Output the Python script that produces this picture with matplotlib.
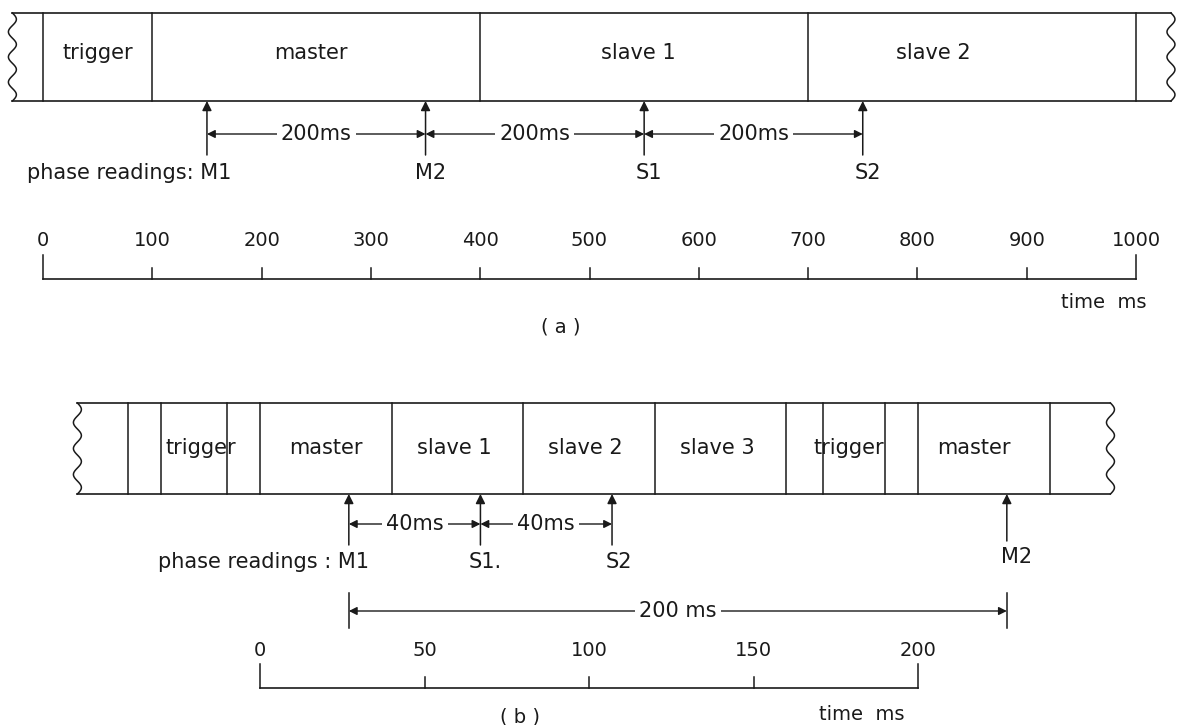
import numpy as np
import matplotlib.pyplot as plt

# --- (a) one full 1000 ms cycle ---
a_edges = [0, 100, 400, 700, 1000]
a_names = ['trigger', 'master', 'slave 1', 'slave 2']
a_name_pos = [50, 245, 545, 815]
a_reads = [150, 350, 550, 750]
a_read_names = ['M1', 'M2', 'S1', 'S2']
a_gap_text = ['200ms', '200ms', '200ms']
a_ticks = [0, 100, 200, 300, 400, 500, 600, 700, 800, 900, 1000]

# --- (b) faster 200 ms cycle ---
b_edges = [-40, -30, -10, 0, 40, 80, 120, 160, 171, 190, 200, 240]
b_names = ['trigger', 'master', 'slave 1', 'slave 2', 'slave 3', 'trigger', 'master']
b_name_pos = [-18, 20, 59, 99, 139, 179, 217]
b_reads = [27, 67, 107, 227]
b_read_names = ['M1', 'S1.', 'S2', 'M2']
b_gap_text = ['40ms', '40ms']
b_ticks = [0, 50, 100, 150, 200]

W, H = 1179, 725
col = '#1a1a1a'
fs = 15     # labels
fs_t = 14   # tick numbers
fig = plt.figure(figsize=(W / 100, H / 100), dpi=100)

def make_ax(x0, k):
    # x in ms, y in pixels from the top
    ax = fig.add_axes([0, 0, 1, 1])
    ax.set_xlim(-x0 / k, (W - x0) / k)
    ax.set_ylim(H, 0)
    ax.axis('off')
    ax.patch.set_alpha(0)
    return ax

def wavy(ax, x, top, bot, k):
    y = np.linspace(top, bot, 80)
    ax.plot(x + 4 / k * np.sin((y - top) / (bot - top) * 2 * np.pi * 3.5), y, color=col, lw=1.1)

def strip(ax, k, edges, left, right, top, bot, names, name_pos, name_y):
    ax.plot([left, right], [top, top], color=col, lw=1.2)
    ax.plot([left, right], [bot, bot], color=col, lw=1.2)
    for e in edges:
        ax.plot([e, e], [top, bot], color=col, lw=1.1)
    wavy(ax, left, top, bot, k)
    wavy(ax, right, top, bot, k)
    for n, p in zip(names, name_pos):
        ax.text(p, name_y, n, ha='center', va='center', fontsize=fs, color=col)

def up_arrow(ax, x, y0, y1):
    ax.annotate('', xy=(x, y1), xytext=(x, y0),
                arrowprops=dict(arrowstyle='-|>', color=col, lw=1.1,
                                mutation_scale=14, shrinkA=0, shrinkB=0))

def dim(ax, x0, x1, y, txt):
    ax.annotate('', xy=(x0, y), xytext=(x1, y),
                arrowprops=dict(arrowstyle='<|-|>', color=col, lw=1.0,
                                mutation_scale=12, shrinkA=0, shrinkB=0))
    ax.text((x0 + x1) / 2, y, txt, ha='center', va='center', fontsize=fs, color=col,
            bbox=dict(facecolor='white', edgecolor='none', pad=3))

def scale(ax, ticks, y, tall, short, lab_y):
    ax.plot([ticks[0], ticks[-1]], [y, y], color=col, lw=1.2)
    for i, t in enumerate(ticks):
        h = tall if i in (0, len(ticks) - 1) else short
        ax.plot([t, t], [y - h, y], color=col, lw=1.1)
        ax.text(t, lab_y, str(t), ha='center', va='center', fontsize=fs_t, color=col)

# panel (a)
ka = 1.093
ax_a = make_ax(43, ka)
strip(ax_a, ka, a_edges, -28, 1032, 13, 101, a_names, a_name_pos, 53)
for r in a_reads:
    up_arrow(ax_a, r, 155, 101)
for i in range(len(a_reads) - 1):
    dim(ax_a, a_reads[i], a_reads[i + 1], 134, a_gap_text[i])
ax_a.text(a_reads[0] + 22, 173, 'phase readings: ' + a_read_names[0], ha='right', va='center',
          fontsize=fs, color=col)
for r, n in zip(a_reads[1:], a_read_names[1:]):
    ax_a.text(r + 5 / ka, 173, n, ha='center', va='center', fontsize=fs, color=col)
scale(ax_a, a_ticks, 279, 24, 11, 240)
ax_a.text(1010, 302, 'time  ms', ha='right', va='center', fontsize=fs_t, color=col)
ax_a.text(474, 327, '( a )', ha='center', va='center', fontsize=fs_t, color=col)

# panel (b)
kb = 3.29
ax_b = make_ax(260, kb)
strip(ax_b, kb, b_edges, -55.5, 258.5, 403, 494, b_names, b_name_pos, 448)
for r in b_reads[:3]:
    up_arrow(ax_b, r, 545, 494)
up_arrow(ax_b, b_reads[3], 541, 494)
for i in range(2):
    dim(ax_b, b_reads[i], b_reads[i + 1], 524, b_gap_text[i])
ax_b.text(b_reads[0] + 6, 562, 'phase readings : ' + b_read_names[0], ha='right', va='center',
          fontsize=fs, color=col)
ax_b.text(b_reads[1] + 1.5, 562, b_read_names[1], ha='center', va='center', fontsize=fs, color=col)
ax_b.text(b_reads[2] + 2, 562, b_read_names[2], ha='center', va='center', fontsize=fs, color=col)
ax_b.text(b_reads[3] + 3, 557, b_read_names[3], ha='center', va='center', fontsize=fs, color=col)
for r in (b_reads[0], b_reads[3]):
    ax_b.plot([r, r], [593, 628], color=col, lw=1.1)
dim(ax_b, b_reads[0], b_reads[3], 611, '200 ms')
scale(ax_b, b_ticks, 688, 24, 11, 650)
ax_b.text(183, 715, 'time  ms', ha='center', va='center', fontsize=fs_t, color=col)
ax_b.text(79, 717, '( b )', ha='center', va='center', fontsize=fs_t, color=col)

fig.savefig('out.png', dpi=100, facecolor='white')
